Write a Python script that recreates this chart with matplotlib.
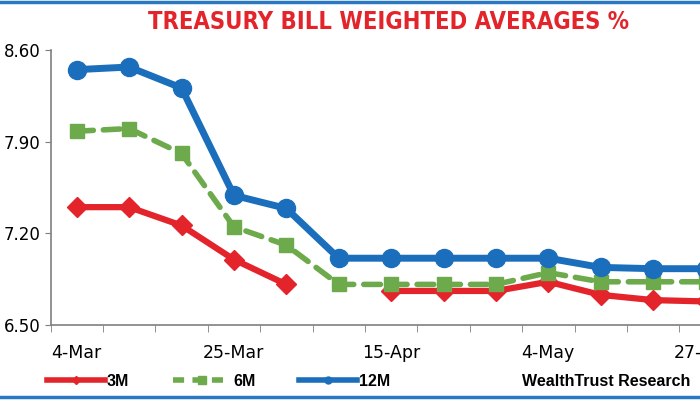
import numpy as np
import matplotlib
matplotlib.use("Agg")
import matplotlib.pyplot as plt
from matplotlib.lines import Line2D
from matplotlib.ticker import FixedLocator

dates = ['4-Mar', '11-Mar', '18-Mar', '25-Mar', '1-Apr', '8-Apr', '15-Apr',
         '22-Apr', '29-Apr', '4-May', '11-May', '18-May', '27-May']
m12 = [8.45, 8.47, 8.31, 7.49, 7.39, 7.01, 7.01, 7.01, 7.01, 7.01, 6.94, 6.93, 6.93]
m6 = [7.98, 8.00, 7.81, 7.25, 7.11, 6.81, 6.81, 6.81, 6.81, 6.90, 6.83, 6.83, 6.83]
m3 = [7.40, 7.40, 7.26, 7.00, 6.81, np.nan, 6.76, 6.76, 6.76, 6.83, 6.73, 6.69, 6.68]
yticks = [6.50, 7.20, 7.90, 8.60]

red = '#E3242B'
green = '#6DAA4B'
blue = '#1B6EBB'
gray = '#7F7F7F'

fig = plt.figure(figsize=(7, 4), dpi=100)
# axes runs past the right edge, like the cropped original
ax = fig.add_axes([50.5 / 700, 75 / 400, 14 * 52.4 / 700, 275 / 400])

x = np.arange(len(dates))
ax.plot(x, m3, color=red, lw=4.5, marker='D', ms=10, solid_capstyle='round')
ax.plot(x, m6, color=green, lw=4, ls=(0, (3, 1.8)), dash_capstyle='round',
        marker='s', ms=10)
ax.plot(x, m12, color=blue, lw=5, marker='o', ms=13, solid_capstyle='round')

ax.set_xlim(-0.5, 13.5)
ax.set_ylim(6.50, 8.60)
ax.set_yticks(yticks)
ax.set_yticklabels(['%.2f' % v for v in yticks])
ax.set_xticks(x[::3])
ax.set_xticklabels(dates[::3])
ax.xaxis.set_minor_locator(FixedLocator(np.arange(-0.5, 14, 1)))
ax.tick_params(axis='x', which='major', length=0, pad=14, labelsize=12.5)
ax.tick_params(axis='x', which='minor', length=5, direction='out', color=gray)
ax.tick_params(axis='y', length=4, direction='out', color=gray, pad=3, labelsize=12)

for s in ['top', 'right']:
    ax.spines[s].set_visible(False)
for s in ['left', 'bottom']:
    ax.spines[s].set_color(gray)
    ax.spines[s].set_linewidth(1.2)

fig.text(388 / 700, 1 - 22 / 400, 'TREASURY BILL WEIGHTED AVERAGES %',
         ha='center', va='center', color=red, fontsize=17, fontweight='bold',
         fontstretch='condensed', family='DejaVu Sans')

handles = [
    Line2D([], [], color=red, lw=4, marker='D', ms=4),
    Line2D([], [], color=green, lw=4, ls=(0, (2, 1.5)), marker='s', ms=6),
    Line2D([], [], color=blue, lw=4, marker='o', ms=5),
]
fig.legend(handles, ['3M', '6M', '12M'], loc='center left',
           bbox_to_anchor=(47 / 700, 1 - 381 / 400), ncol=3, frameon=False,
           borderpad=0, borderaxespad=0, handlelength=3.6, handletextpad=0.15,
           columnspacing=2.75,
           prop={'family': 'Liberation Sans', 'weight': 'bold', 'size': 11.5})

fig.text(522 / 700, 1 - 381 / 400, 'WealthTrust Research', ha='left',
         va='center', fontsize=11.5, fontweight='bold', family='Liberation Sans')

# blue frame lines at top and bottom
fig.add_artist(Line2D([0, 1], [1 - 2 / 400, 1 - 2 / 400], color='#2B78C2', lw=2.5))
fig.add_artist(Line2D([0, 1], [3 / 400, 3 / 400], color='#2B78C2', lw=2.5))

fig.savefig('out.png', dpi=100)
